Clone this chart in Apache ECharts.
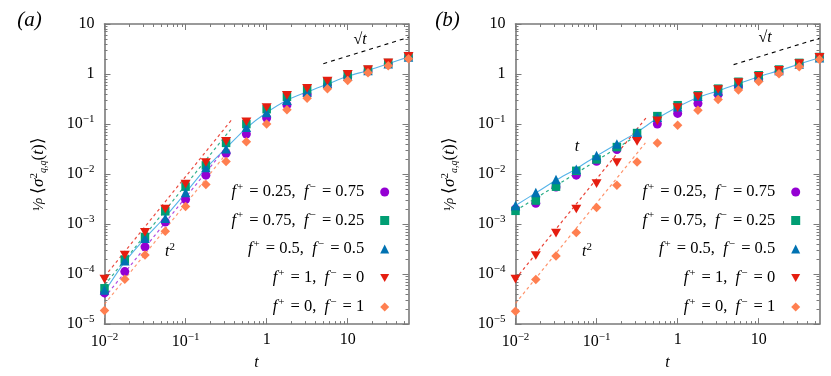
<!DOCTYPE html>
<html><head><meta charset="utf-8">
<script src="https://cdn.jsdelivr.net/npm/echarts@6/dist/echarts.min.js"></script>
<style>html,body{margin:0;padding:0;background:#fff}#c{width:831px;height:376px}</style>
</head><body><div id="c"></div>
<script>
// ---- data ----
const T = [0.01, 0.0178, 0.0316, 0.0562, 0.1, 0.178, 0.316, 0.562, 1, 1.78, 3.16, 5.62, 10, 17.8, 31.6, 56.2];
const names = ['f+ = 0.25, f− = 0.75', 'f+ = 0.75, f− = 0.25', 'f+ = 0.5, f− = 0.5', 'f+ = 1, f− = 0', 'f+ = 0, f− = 1'];

// panel (a)
const aPurple = [4.2e-5, 1.12e-4, 3.5e-4, 1.1e-3, 3.1e-3, 9.5e-3, 0.026, 0.063, 0.132, 0.24, 0.39, 0.60, 0.87, 1.15, 1.58, 2.15];
const aGreen  = [5.2e-5, 1.95e-4, 5.5e-4, 1.8e-3, 5.6e-3, 0.0149, 0.042, 0.10, 0.198, 0.35, 0.49, 0.70, 0.955, 1.21, 1.66, 2.27];
const aBlue   = [4.8e-5, 1.85e-4, 5.2e-4, 1.3e-3, 4.3e-3, 0.0135, 0.032, 0.086, 0.17, 0.30, 0.436, 0.65, 0.90, 1.17, 1.61, 2.2];
const aRed    = [7.9e-5, 2.4e-4, 6.8e-4, 2.0e-3, 6.3e-3, 0.017, 0.045, 0.111, 0.214, 0.375, 0.516, 0.72, 0.98, 1.23, 1.67, 2.25];
const aOrange = [1.86e-5, 7.9e-5, 2.4e-4, 7.2e-4, 2.24e-3, 6.2e-3, 0.0178, 0.044, 0.10, 0.194, 0.327, 0.51, 0.74, 1.06, 1.47, 2.03];
const aTheory = [4.4e-5, 1.75e-4, 5.2e-4, 1.4e-3, 4.2e-3, 0.013, 0.033, 0.083, 0.17, 0.30, 0.44, 0.63, 0.90, 1.18, 1.60, 2.2];
const aGuidePurple = [[0.01, 3.4e-5], [0.33, 0.037]];
const aGuideGreen  = [[0.01, 6.0e-5], [0.36, 0.078]];
const aGuideRed    = [[0.01, 8.9e-5], [0.38, 0.128]];
const aGuideOrange = [[0.01, 2.5e-5], [0.35, 0.031]];
const aSqrt = [[5.0, 1.61], [56.2, 5.4]];

// panel (b)
const bPurple = [2.0e-3, 2.6e-3, 5.5e-3, 9.5e-3, 0.018, 0.031, 0.055, 0.10, 0.163, 0.257, 0.39, 0.57, 0.80, 1.10, 1.54, 2.12];
const bGreen  = [1.84e-3, 2.95e-3, 5.6e-3, 0.0116, 0.0196, 0.0346, 0.066, 0.144, 0.238, 0.375, 0.51, 0.70, 0.946, 1.23, 1.67, 2.19];
const bBlue   = [2.34e-3, 4.3e-3, 7.8e-3, 0.0125, 0.0236, 0.040, 0.068, 0.136, 0.222, 0.358, 0.457, 0.64, 0.88, 1.17, 1.58, 2.12];
const bRed    = [7.9e-5, 2.35e-4, 6.6e-4, 2.0e-3, 6.45e-3, 0.017, 0.045, 0.116, 0.212, 0.355, 0.49, 0.67, 0.90, 1.19, 1.61, 2.16];
const bOrange = [1.8e-5, 7.8e-5, 2.3e-4, 6.8e-4, 2.14e-3, 6.0e-3, 0.0174, 0.042, 0.095, 0.189, 0.31, 0.48, 0.71, 1.01, 1.39, 1.94];
const bTheory = [2.35e-3, 4.2e-3, 7.5e-3, 0.0128, 0.023, 0.040, 0.069, 0.13, 0.22, 0.34, 0.46, 0.64, 0.88, 1.17, 1.58, 2.12];
const bGuideGreen  = [[0.01, 1.85e-3], [0.36, 0.067]];
const bGuideRed    = [[0.01, 8.0e-5], [0.41, 0.134]];
const bGuideOrange = [[0.01, 2.6e-5], [0.40, 0.042]];
const bSqrt = [[4.9, 1.54], [56.2, 5.2]];

const xMajor = [0.01, 0.1, 1, 10];
const yMajor = [1e-5, 1e-4, 1e-3, 1e-2, 1e-1, 1, 10];

// ---- styling ----
const FF = 'Liberation Serif';
const AX = '#7a7a7a';
const colors = ['#9400d3', '#009e73', '#0072b2', '#e51e10', '#ff7f50'];
const symbols = ['circle', 'rect', 'triangle', 'path://M0,0 L10,0 L5,8.66 Z', 'diamond'];
const sizes = [9, 8.5, 9.5, [10, 8.7], 9.5];

function minorList(lo, hi) {
  const out = [];
  for (let e = lo; e < hi; e++) for (let k = 2; k <= 9; k++) out.push(+(k * Math.pow(10, e)).toPrecision(3));
  return out;
}
const xMinor = minorList(-2, 2);
const yMinor = minorList(-5, 1);

const supRich = {
  s: { fontFamily: FF, fontSize: 11, color: '#000', padding: [0, 0, 9, 0] }
};
function powLabel(v) {
  const n = Math.round(Math.log10(v));
  if (n === 0) return '1';
  if (n === 1) return '10';
  return '10{s|' + (n < 0 ? '−' : '') + Math.abs(n) + '}';
}

const grids = [
  { left: 104.5, top: 24, width: 304, height: 303.3 },
  { left: 515.5, top: 24, width: 304, height: 303.3 }
];

const xAxis = [], yAxis = [];
grids.forEach((gr, g) => {
  const xb = { type: 'log', logBase: 10, min: 0.01, max: 56.2, gridIndex: g, splitLine: { show: false } };
  const yb = { type: 'log', logBase: 10, min: 1e-5, max: 10, gridIndex: g, splitLine: { show: false } };
  const mainLine = { show: true, onZero: false, lineStyle: { color: AX, width: 1.6 } };
  const noLine = { show: false, onZero: false };
  const majTick = (vals) => ({ show: true, inside: true, length: 6, lineStyle: { color: AX, width: 1 }, customValues: vals });
  const minTick = (vals) => ({ show: true, inside: true, length: 3, lineStyle: { color: AX, width: 1 }, customValues: vals });
  xAxis.push(
    Object.assign({}, xb, {
      position: 'bottom', axisLine: mainLine, axisTick: majTick(xMajor),
      axisLabel: { show: true, customValues: xMajor, formatter: powLabel, fontFamily: FF, fontSize: 16, color: '#000', margin: 8, rich: supRich },
      name: 't', nameLocation: 'middle', nameGap: 28,
      nameTextStyle: { fontFamily: FF, fontSize: 16, fontStyle: 'italic', color: '#000' }
    }),
    Object.assign({}, xb, { position: 'bottom', axisLine: noLine, axisTick: minTick(xMinor), axisLabel: { show: false } }),
    Object.assign({}, xb, { position: 'top', axisLine: mainLine, axisTick: majTick(xMajor), axisLabel: { show: false } }),
    Object.assign({}, xb, { position: 'top', axisLine: noLine, axisTick: minTick(xMinor), axisLabel: { show: false } })
  );
  const sub = g === 0 ? 'q,q' : 'a,q';
  yAxis.push(
    Object.assign({}, yb, {
      position: 'left', axisLine: mainLine, axisTick: majTick(yMajor),
      axisLabel: { show: true, customValues: yMajor, formatter: powLabel, fontFamily: FF, fontSize: 16, color: '#000', margin: 10, rich: supRich },
      name: '{fr|¹⁄}{fi|ρ}{n|⟨}{i|σ}{sp|2}{sb|' + sub + '}{n|(}{i|t}{n|)⟩}',
      nameLocation: 'middle', nameGap: 55, nameRotate: 90,
      nameTextStyle: {
        fontFamily: FF, fontSize: 16, color: '#000',
        rich: {
          fr: { fontFamily: FF, fontSize: 14, color: '#000' },
          fi: { fontFamily: FF, fontSize: 13, fontStyle: 'italic', color: '#000', padding: [0, 4, 0, 0] },
          n: { fontFamily: FF, fontSize: 17, color: '#000' },
          i: { fontFamily: FF, fontSize: 17, fontStyle: 'italic', color: '#000' },
          sp: { fontFamily: FF, fontSize: 11, color: '#000', padding: [0, 0, 10, 0] },
          sb: { fontFamily: FF, fontSize: 10, fontStyle: 'italic', color: '#000', padding: [8, 0, 0, 0] }
        }
      }
    }),
    Object.assign({}, yb, { position: 'left', axisLine: noLine, axisTick: minTick(yMinor), axisLabel: { show: false } }),
    Object.assign({}, yb, { position: 'right', axisLine: mainLine, axisTick: majTick(yMajor), axisLabel: { show: false } }),
    Object.assign({}, yb, { position: 'right', axisLine: noLine, axisTick: minTick(yMinor), axisLabel: { show: false } })
  );
});

const series = [];
function guide(g, pts, color, dash, width, opacity) {
  series.push({
    type: 'line', xAxisIndex: 4 * g, yAxisIndex: 4 * g, data: pts, showSymbol: false, symbol: 'none',
    silent: true, z: 1,
    lineStyle: { color: color, width: width || 1.2, type: dash, opacity: opacity == null ? 1 : opacity }
  });
}
// theory + guide lines
guide(0, T.map((t, i) => [t, aTheory[i]]), '#56b4e9', 'solid', 1.1);
series[series.length - 1].smooth = 0.3;
guide(0, aGuidePurple, colors[0], [3, 3], 1.2, 0.7);
guide(0, aGuideGreen, colors[1], [3, 3], 1.2, 0.8);
guide(0, aGuideRed, colors[3], [3, 3], 1.2, 0.8);
guide(0, aGuideOrange, colors[4], [3, 3], 1.2, 0.8);
guide(0, aSqrt, '#000', [4, 4], 1.1, 1);
guide(1, T.map((t, i) => [t, bTheory[i]]), '#56b4e9', 'solid', 1.1);
series[series.length - 1].smooth = 0.3;
guide(1, bGuideGreen, colors[1], [3, 3], 1.2, 0.85);
guide(1, bGuideRed, colors[3], [3, 3], 1.2, 0.85);
guide(1, bGuideOrange, colors[4], [3, 3], 1.2, 0.85);
guide(1, bSqrt, '#000', [4, 4], 1.1, 1);

const panels = [[aPurple, aGreen, aBlue, aRed, aOrange], [bPurple, bGreen, bBlue, bRed, bOrange]];
panels.forEach((arrs, g) => {
  arrs.forEach((arr, k) => {
    series.push({
      type: 'scatter', name: names[k], xAxisIndex: 4 * g, yAxisIndex: 4 * g,
      data: T.map((t, i) => [t, arr[i]]),
      symbol: symbols[k], symbolSize: sizes[k],
      itemStyle: { color: colors[k], opacity: 1 }, z: 3 + k
    });
  });
});

// legends: one per entry so that markers line up on the right
const legendRows = [191, 219.5, 248, 277, 306];
const legendRight = [441.8, 30.8];
const legend = [];
[0, 1].forEach(g => {
  names.forEach((nm, k) => {
    legend.push({
      data: [nm], orient: 'vertical', align: 'right', right: legendRight[g], top: legendRows[k] - 9.5,
      padding: 0, itemWidth: 9, itemHeight: 9, selectedMode: false,
      formatter: (name) => name.replace(/f([+−])/g, '{i|f}{s|$1}').replace(', ', ',  ') + '{g|}',
      textStyle: {
        fontFamily: FF, fontSize: 16.5, color: '#000',
        rich: {
          i: { fontFamily: FF, fontSize: 16.5, fontStyle: 'italic', color: '#000' },
          s: { fontFamily: FF, fontSize: 11, color: '#000', padding: [0, 2, 10, 1] },
          g: { width: 11 }
        }
      }
    });
  });
});

const txt = (x, y, t, size, italic, rich) => ({
  type: 'text', x: x, y: y, silent: true,
  style: { text: t, fontFamily: FF, fontSize: size, fontStyle: italic ? 'italic' : 'normal', fill: '#000', align: 'center', verticalAlign: 'middle', rich: rich }
});
const supR = { i: { fontFamily: FF, fontSize: 16, fontStyle: 'italic', fill: '#000' }, s: { fontFamily: FF, fontSize: 11, fill: '#000', padding: [0, 0, 9, 0] } };
const graphic = [
  txt(29.5, 20, '(a)', 21, true),
  txt(447.5, 20, '(b)', 21, true),
  txt(170, 252, '{i|t}{s|2}', 16, true, supR),
  txt(587, 252, '{i|t}{s|2}', 16, true, supR),
  txt(577, 147, 't', 16, true),
  txt(360, 40, '√{i|t}', 16, false, supR),
  txt(765, 38, '√{i|t}', 16, false, supR)
];

const chart = echarts.init(document.getElementById('c'), null, { renderer: 'canvas' });
chart.setOption({
  animation: false,
  backgroundColor: '#fff',
  grid: grids,
  xAxis: xAxis,
  yAxis: yAxis,
  legend: legend,
  series: series,
  graphic: graphic
});
</script></body></html>
